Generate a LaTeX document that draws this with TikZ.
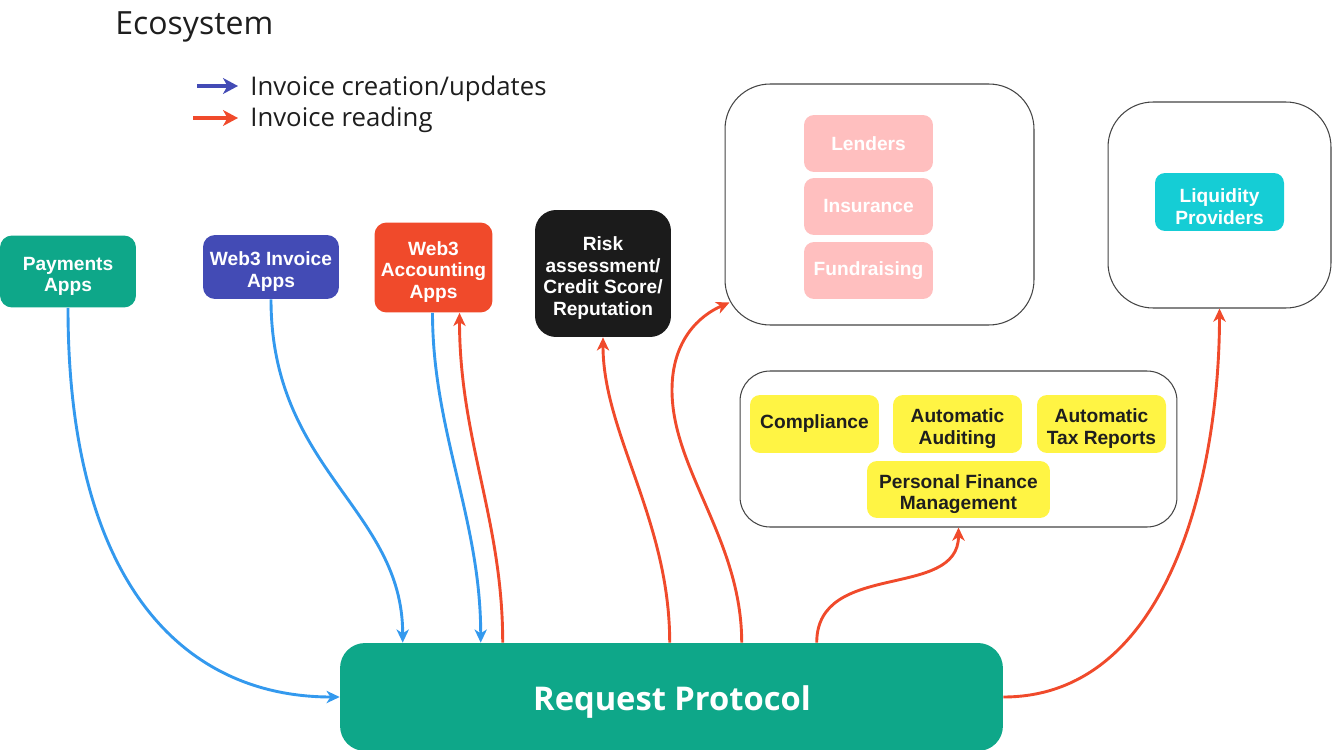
\documentclass[tikz,border=0pt]{standalone}
\usepackage{fontspec}
\setmainfont{Open Sans}
\newfontfamily\boxfont{Liberation Sans}
\usetikzlibrary{arrows.meta,calc}
\definecolor{cteal}{HTML}{0EA789}
\definecolor{cindigo}{HTML}{434BB5}
\definecolor{cred}{HTML}{F04A2B}
\definecolor{cblack}{HTML}{1B1B1B}
\definecolor{cpink}{HTML}{FFBFBF}
\definecolor{ccyan}{HTML}{15CDD5}
\definecolor{cyellow}{HTML}{FFF444}
\definecolor{cblue}{HTML}{3399EE}
\definecolor{cgray}{HTML}{444444}
\definecolor{ctext}{HTML}{1E1E1E}
\newcommand{\strutA}{\rule{0pt}{13pt}}
\begin{document}
\begin{tikzpicture}[x=0.02cm,y=-0.02cm,
  box/.style={rounded corners=0.24cm, inner sep=0pt, align=center, text=white,
    font=\boxfont\bfseries\fontsize{10.9}{12.4}\selectfont},
  inbox/.style={box, rounded corners=0.2cm, minimum width=2.58cm, minimum height=1.16cm},
  grp/.style={draw=cgray, line width=0.6pt, rounded corners=0.9cm, inner sep=0pt},
  conn/.style={line width=1.65pt, -{Stealth[length=7.5pt,width=7pt,inset=2.2pt]}},
  bl/.style={conn, draw=cblue},
  rd/.style={conn, draw=cred},
  leg/.style={line width=2.3pt, -{Stealth[length=8.5pt,width=9pt,inset=2.5pt]}},
  plain/.style={anchor=base west, inner sep=0pt, text=ctext}
]
\useasboundingbox (0,0) rectangle (1332,750);
\clip (0,0) rectangle (1332,750);

% title and legend
\node[plain, font=\fontsize{18.2}{22}\selectfont] (title) at (115,35) {Ecosystem};
\coordinate (lb1) at (197,86);
\coordinate (lb2) at (238,86);
\coordinate (lr1) at (193,118);
\coordinate (lr2) at (238,118);
\draw[leg, draw=cindigo] (lb1) -- (lb2);
\draw[leg, draw=cred] (lr1) -- (lr2);
\node[plain, font=\fontsize{14.65}{17}\selectfont] (leg1) at (250,95) {Invoice creation/updates};
\node[plain, font=\fontsize{14.65}{17}\selectfont] (leg2) at (250,127) {Invoice reading};

% app boxes
\node[box, fill=cteal, minimum width=2.72cm, minimum height=1.44cm] (pay) at (68,271.5) {\strutA Payments\\Apps};
\node[box, fill=cindigo, minimum width=2.72cm, minimum height=1.28cm] (inv) at (271,267) {\strutA Web3 Invoice\\Apps};
\node[box, fill=cred, minimum width=2.36cm, minimum height=1.8cm] (acc) at (433.5,267.5) {\strutA Web3\\Accounting\\Apps};
\node[box, fill=cblack, rounded corners=0.42cm, minimum width=2.72cm, minimum height=2.54cm] (risk) at (603,273.5) {\strutA Risk\\assessment/\\Credit Score/\\Reputation};

% groups
\node[grp, minimum width=6.18cm, minimum height=4.82cm] (grp1) at (879.5,204.5) {};
\node[grp, minimum width=4.46cm, minimum height=4.12cm] (grp2) at (1219.5,205) {};
\node[grp, rounded corners=0.6cm, minimum width=8.74cm, minimum height=3.12cm] (grp3) at (958.5,449) {};

\node[inbox, fill=cpink, minimum height=1.14cm] (lend) at (868.5,143.5) {Lenders};
\node[inbox, fill=cpink, minimum height=1.14cm] (ins) at (868.5,206.5) {Insurance};
\node[inbox, fill=cpink, minimum height=1.14cm] (fund) at (868.5,270.5) {Fundraising};
\node[inbox, fill=ccyan] (liq) at (1219.5,202) {\strutA Liquidity\\Providers};

\node[inbox, fill=cyellow, text=ctext] (comp) at (814.5,424) {Compliance};
\node[inbox, fill=cyellow, text=ctext] (audit) at (957.5,424) {\strutA Automatic\\Auditing};
\node[inbox, fill=cyellow, text=ctext] (tax) at (1101.5,424) {\strutA Automatic\\Tax Reports};
\node[inbox, fill=cyellow, text=ctext, minimum width=3.66cm, minimum height=1.14cm] (pfm) at (958.5,489.5) {\strutA Personal Finance\\Management};

% request protocol
\node[fill=cteal, rounded corners=0.5cm, inner sep=0pt, minimum width=13.26cm, minimum height=2.16cm] (rp) at (671.5,697) {};
\node[anchor=base, inner sep=0pt, text=white, font=\bfseries\fontsize{18.6}{22}\selectfont] (rplabel) at ($(rp.center)+(0.5,13)$) {Request Protocol};

% connectors
\draw[bl] (pay.south) .. controls +(0,273) and +(-158,0) .. (rp.west);
\draw[bl] (inv.south) .. controls +(0,171) and +(0,-134) .. ($(rp.north west)+(63,0)$);
\draw[bl] ($(acc.south)+(-1,0)$) .. controls +(0,118) and +(0,-123) .. ($(rp.north west)+(141,0)$);
\draw[rd] ($(rp.north west)+(163,0)$) .. controls +(0,-123) and +(0,127) .. ($(acc.south)+(26,0)$);
\draw[rd] ($(rp.north west)+(330,0)$) .. controls +(0,-123) and +(0,96) .. (risk.south);
\coordinate (w6) at (672,390);
\draw[rd] ($(rp.north west)+(402,0)$) .. controls +(0,-103) and +(0,80) .. (w6)
  .. controls +(0,-50) and +(-30,13) .. ($(grp1.south west)+(5,-23)$);
\draw[rd] ($(rp.north west)+(477,0)$) .. controls +(0,-83) and +(0,73) .. (grp3.south);
\draw[rd] (rp.east) .. controls +(167,0) and +(0,163) .. (grp2.south);
\end{tikzpicture}
\end{document}
